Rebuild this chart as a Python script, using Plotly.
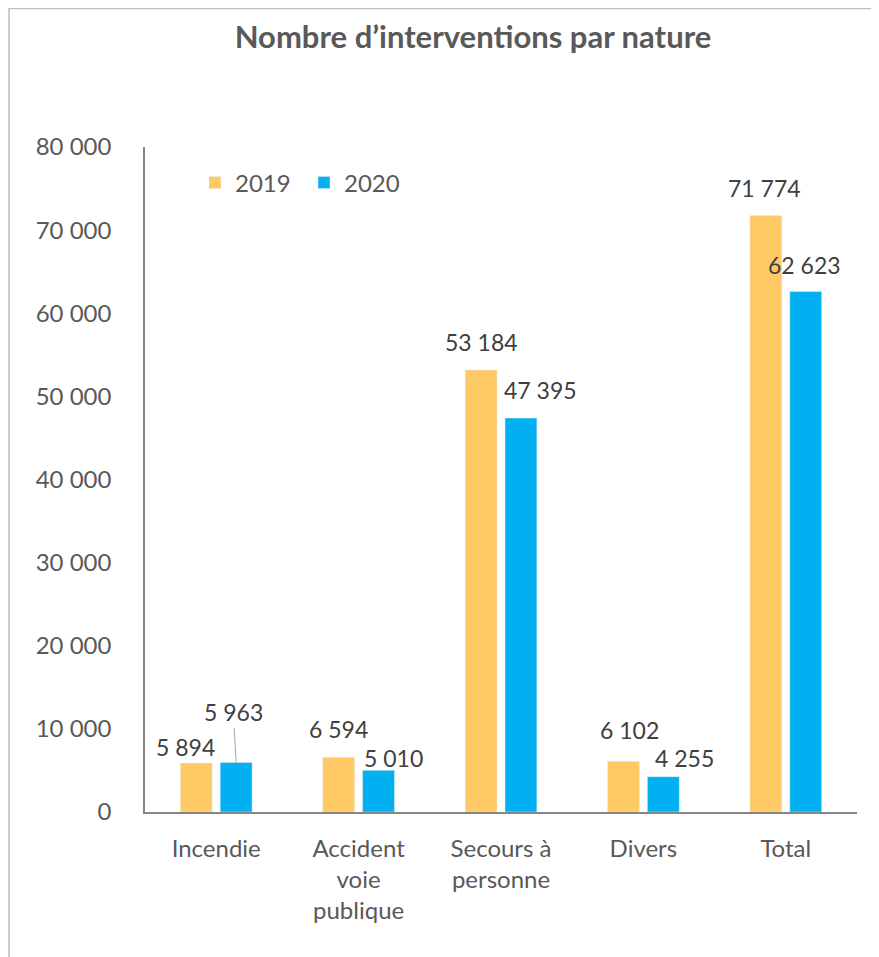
import plotly.graph_objects as go

categories = ["Incendie", "Accident<br>voie<br>publique", "Secours à<br>personne", "Divers", "Total"]
values_2019 = [5894, 6594, 53184, 6102, 71774]
values_2020 = [5963, 5010, 47395, 4255, 62623]
series_names = ["2019", "2020"]
y_tick_vals = [0, 10000, 20000, 30000, 40000, 50000, 60000, 70000, 80000]

COL_2019 = "#FFC965"
COL_2020 = "#00B0F0"
TXT = "#595959"
LBL = "#404040"
FONT = "Lato"

# page has an 8px body margin: figure drawn 8px smaller and shifted
OFF = 8
W, H = 879 - OFF, 957 - OFF
ML, MR, MT = 145 - OFF, 22, 147 - OFF
MB = H - (812 - OFF)

def fmt(v):
    return f"{v:,}".replace(",", " ")

fig = go.Figure()
fig.add_trace(go.Bar(x=categories, y=values_2019, name=series_names[0], marker_color=COL_2019))
fig.add_trace(go.Bar(x=categories, y=values_2020, name=series_names[1], marker_color=COL_2020))

# label offsets (pixels): (dx from bar centre, dy above bar top)
off_2019 = [(-11, 16), (0, 28), (0, 28), (6, 31), (-1, 27)]
off_2020 = [(-3, 50), (15, 12), (19, 28), (21, 19), (-1, 26)]

annotations = []
for cat, v, (dx, dy) in zip(categories, values_2019, off_2019):
    annotations.append(dict(x=cat, y=v, text=fmt(v), showarrow=False, xshift=-20 + dx, yshift=dy,
                            yanchor="middle", font=dict(family=FONT, size=23, color=LBL)))
for i, (cat, v, (dx, dy)) in enumerate(zip(categories, values_2020, off_2020)):
    if i == 0:
        annotations.append(dict(x=cat, y=v, text=fmt(v), showarrow=True, arrowhead=0, arrowwidth=1,
                                arrowcolor="#A6A6A6", ax=dx, ay=-dy, xshift=20, standoff=0,
                                font=dict(family=FONT, size=23, color=LBL)))
    else:
        annotations.append(dict(x=cat, y=v, text=fmt(v), showarrow=False, xshift=20 + dx, yshift=dy,
                                yanchor="middle", font=dict(family=FONT, size=23, color=LBL)))

pw = W - ML - MR
ph = H - MT - MB
frame = dict(type="rect", xref="paper", yref="paper",
             x0=(1 - ML) / pw, x1=(W + 5 - ML) / pw,
             y0=-(H + 5 - MT - ph) / ph, y1=(MT - 0.5) / ph + 1,
             line=dict(color="#BFBFBF", width=1.5), fillcolor="rgba(0,0,0,0)", layer="below")

fig.update_layout(
    width=W, height=H,
    margin=dict(l=ML, r=MR, t=MT, b=MB),
    paper_bgcolor="white", plot_bgcolor="white",
    barmode="group", bargap=0.44, bargroupgap=0.2,
    title=dict(text="<b>Nombre d’interventions par nature</b>", x=(473 - OFF) / W, xanchor="center",
               y=1 - (37 - OFF) / H, yanchor="middle",
               font=dict(family=FONT, size=31, color=TXT)),
    font=dict(family=FONT, size=24, color=TXT),
    legend=dict(orientation="h", x=(195 - 145) / pw, xanchor="left", y=(812 - 183) / ph, yanchor="middle",
                font=dict(family=FONT, size=24, color=TXT), bgcolor="rgba(0,0,0,0)",
                entrywidth=64, entrywidthmode="pixels"),
    annotations=annotations,
    shapes=[frame],
    showlegend=True,
)
fig.update_yaxes(range=[0, 80000], tickvals=y_tick_vals, ticktext=[fmt(v) for v in y_tick_vals],
                 showgrid=False, zeroline=False, showline=True, linecolor="#868686", linewidth=1.5,
                 ticks="", ticklabelstandoff=27, tickfont=dict(family=FONT, size=24, color=TXT))
fig.update_xaxes(showgrid=False, showline=True, linecolor="#868686", linewidth=1.5, ticks="",
                 ticklabelstandoff=14, tickfont=dict(family=FONT, size=24, color=TXT))

fig.write_html("out.html")
